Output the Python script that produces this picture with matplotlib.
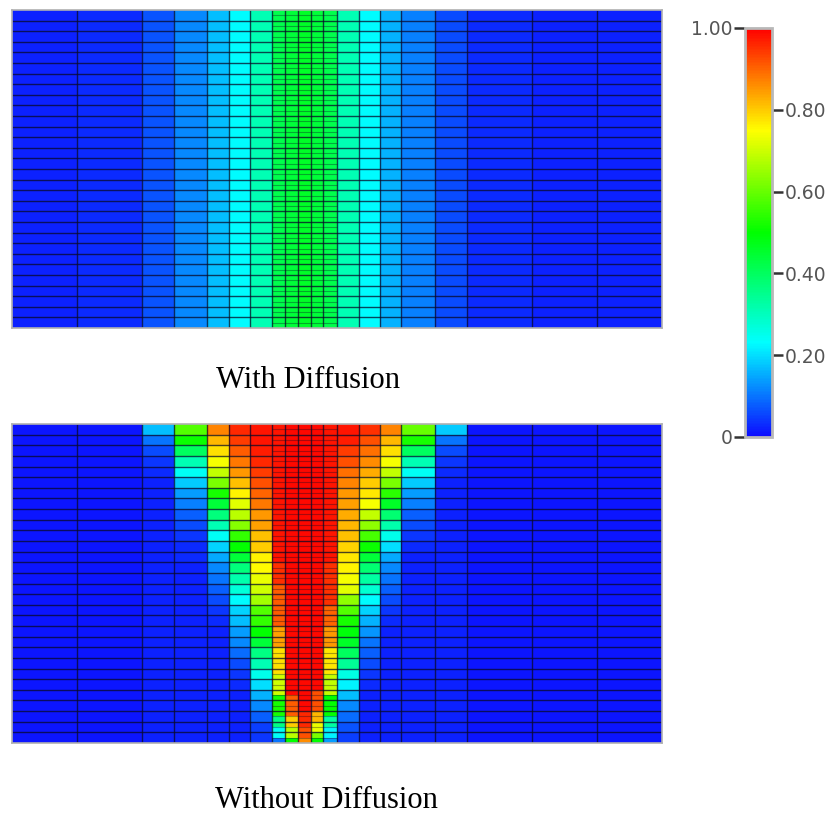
import numpy as np
import matplotlib
matplotlib.use("Agg")
import matplotlib.pyplot as plt
from matplotlib.colors import LinearSegmentedColormap, Normalize
from matplotlib.cm import ScalarMappable

# mesh column edges (cm); columns 7..11 are the refined centre strip
x_edges = [0, 65, 130, 162, 195, 217, 238, 260, 273, 286, 299, 311, 325,
           347, 368, 389, 423, 455, 520, 585, 650]
n_rows = 30
fine_lo, fine_hi = 7, 12

# concentration, with diffusion: uniform in depth, one value per column
top_values = [0.02, 0.03, 0.07, 0.12, 0.17, 0.23, 0.31,
              0.42, 0.44, 0.46, 0.44, 0.42,
              0.31, 0.23, 0.16, 0.11, 0.06, 0.03, 0.02, 0.02]

# concentration, without diffusion: depth profiles (top row first)
bottom_left = [
    [0.01] * 30,
    [0.01] * 30,
    [0.17, 0.10, 0.06, 0.04, 0.03] + [0.02] * 25,
    [0.58, 0.51, 0.40, 0.31, 0.24, 0.18, 0.14, 0.11, 0.08, 0.06, 0.04, 0.03, 0.03] + [0.02] * 17,
    [0.87, 0.82, 0.78, 0.74, 0.69, 0.62, 0.52, 0.44, 0.37, 0.31, 0.24, 0.19, 0.15, 0.12,
     0.10, 0.08, 0.06, 0.04, 0.03] + [0.02] * 11,
    [0.96, 0.94, 0.91, 0.88, 0.85, 0.81, 0.76, 0.72, 0.68, 0.63, 0.55, 0.50, 0.44, 0.37,
     0.32, 0.27, 0.23, 0.19, 0.17, 0.14, 0.12, 0.09, 0.06, 0.04, 0.03, 0.02, 0.02, 0.02, 0.02, 0.02],
    [0.98, 0.98, 0.97, 0.96, 0.94, 0.92, 0.90, 0.88, 0.85, 0.84, 0.81, 0.80, 0.76, 0.75,
     0.73, 0.70, 0.66, 0.58, 0.55, 0.50, 0.44, 0.36, 0.31, 0.25, 0.20, 0.16, 0.12, 0.08, 0.05, 0.04],
]
# refined strip has twice as many rows
bottom_fine = [
    [0.98] * 26 + [0.95] * 4 + [0.91] * 8 + [0.84] * 4 + [0.78] * 5 + [0.70] * 4
    + [0.52] * 4 + [0.36] * 2 + [0.24] * 2 + [0.10],
    [0.99] * 51 + [0.91] * 4 + [0.80] * 2 + [0.68] * 2 + [0.50],
    [0.99] * 54 + [0.96] * 3 + [0.92] * 2 + [0.86],
    [0.99] * 50 + [0.92] * 4 + [0.82] * 2 + [0.73] * 2 + [0.62] + [0.50],
    [0.98] * 26 + [0.95] * 8 + [0.90] * 4 + [0.85] * 4 + [0.77] * 5 + [0.69] * 4
    + [0.50] * 4 + [0.33] * 2 + [0.22] * 2 + [0.14],
]
bottom_right = [
    [0.98, 0.97, 0.94, 0.92, 0.89, 0.87, 0.85, 0.84, 0.83, 0.82, 0.81, 0.79, 0.77, 0.76,
     0.74, 0.72, 0.64, 0.58, 0.52, 0.49, 0.46, 0.40, 0.34, 0.26, 0.22, 0.17, 0.12, 0.09, 0.07, 0.05],
    [0.95, 0.92, 0.89, 0.86, 0.83, 0.80, 0.77, 0.74, 0.69, 0.64, 0.57, 0.51, 0.44, 0.38,
     0.33, 0.28, 0.23, 0.19, 0.16, 0.13, 0.10, 0.08, 0.06, 0.04, 0.03, 0.02, 0.02, 0.02, 0.02, 0.02],
    [0.87, 0.82, 0.78, 0.74, 0.69, 0.62, 0.54, 0.46, 0.38, 0.32, 0.25, 0.20, 0.15, 0.12,
     0.10, 0.08, 0.06, 0.04, 0.03] + [0.02] * 11,
    [0.60, 0.52, 0.40, 0.31, 0.24, 0.18, 0.14, 0.11, 0.08, 0.06, 0.04, 0.03] + [0.02] * 18,
    [0.18, 0.10, 0.06, 0.04, 0.03] + [0.02] * 25,
    [0.01] * 30,
    [0.01] * 30,
    [0.01] * 30,
]

cb_ticks = [0.2, 0.4, 0.6, 0.8]
cb_labels = ["0.20", "0.40", "0.60", "0.80"]

cmap = LinearSegmentedColormap.from_list(
    "conc", [(0.0, (0.05, 0.05, 1.0)), (0.23, (0.0, 1.0, 1.0)), (0.5, (0.0, 1.0, 0.0)),
             (0.75, (1.0, 1.0, 0.0)), (1.0, (1.0, 0.0, 0.0))])
norm = Normalize(0, 1)


def build_grid(coarse_left, fine, coarse_right):
    cols = [np.repeat(c, 2) for c in coarse_left] + [np.asarray(c) for c in fine] \
        + [np.repeat(c, 2) for c in coarse_right]
    return np.column_stack(cols)


top_grid = np.column_stack([np.full(2 * n_rows, v) for v in top_values])
bottom_grid = build_grid(bottom_left, bottom_fine, bottom_right)

y_edges = np.linspace(0, n_rows, 2 * n_rows + 1)
line_col = "#0a0a28"


def draw_panel(ax, grid):
    ax.pcolormesh(x_edges, y_edges, grid, cmap=cmap, norm=norm, shading="flat")
    ax.vlines(x_edges[1:-1], 0, n_rows, linewidth=1.0, colors=line_col, alpha=0.75)
    ax.hlines(np.arange(1, n_rows), x_edges[0], x_edges[-1], linewidth=1.0,
              colors=line_col, alpha=0.75)
    # half rows of the refined strip, drawn fainter
    ax.hlines(np.arange(0.5, n_rows, 1), x_edges[fine_lo], x_edges[fine_hi],
              linewidth=0.8, colors=line_col, alpha=0.35)
    ax.set_xlim(x_edges[0], x_edges[-1])
    ax.set_ylim(n_rows, 0)
    ax.set_xticks([])
    ax.set_yticks([])
    for s in ax.spines.values():
        s.set_color("#b0b0b0")
        s.set_linewidth(1.2)


W, H = 833, 817
fig = plt.figure(figsize=(W / 100, H / 100), dpi=100)

ax1 = fig.add_axes([12 / W, 1 - 328 / H, 650 / W, 318 / H])
ax2 = fig.add_axes([12 / W, 1 - 743 / H, 650 / W, 319 / H])
draw_panel(ax1, top_grid)
draw_panel(ax2, bottom_grid)

fig.text(308 / W, 1 - 381 / H, "With Diffusion", ha="center", va="center",
         fontsize=22, family="Liberation Serif")
fig.text(326 / W, 1 - 800 / H, "Without Diffusion", ha="center", va="center",
         fontsize=22, family="Liberation Serif")

cax = fig.add_axes([745 / W, 1 - 437 / H, 27 / W, 409 / H])
cb = fig.colorbar(ScalarMappable(norm=norm, cmap=cmap), cax=cax)
cb.outline.set_edgecolor("#b8b8b8")
cb.outline.set_linewidth(2)
cb.set_ticks(cb_ticks, labels=cb_labels)
tick_kw = dict(length=8, width=1.8, color="#333333", labelcolor="#555555",
               labelsize=13.5, pad=1)
cax.tick_params(**tick_kw)
left = cax.secondary_yaxis("left")
left.set_yticks([0, 1], labels=["0", "1.00"])
left.tick_params(**tick_kw)
left.spines["left"].set_visible(False)

fig.savefig("out.png", dpi=100)
